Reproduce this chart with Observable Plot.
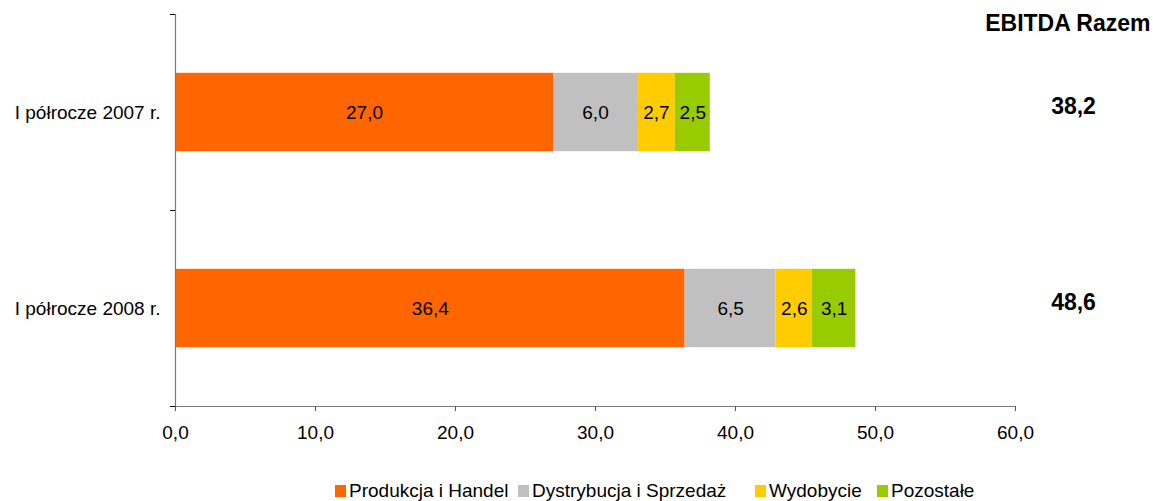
<!DOCTYPE html>
<html><head><meta charset="utf-8">
<script src="https://cdn.jsdelivr.net/npm/d3@7"></script>
<script src="https://cdn.jsdelivr.net/npm/@observablehq/plot@0.6"></script>
<style>
body{margin:0;background:#fff;font-family:"Liberation Sans",Arial,sans-serif;}
#chart svg{display:block;}
#legend{position:relative;height:23px;width:1153px;font-size:19px;color:#000;}
.item{position:absolute;top:1px;display:flex;align-items:center;height:23px;white-space:nowrap;}
.sw{width:11px;height:12px;margin-right:3px;display:inline-block;}
</style></head><body>
<div id="chart"></div>
<div id="legend"></div>
<script>
const categories = ["I półrocze 2007 r.", "I półrocze 2008 r."];
const segments = ["Produkcja i Handel", "Dystrybucja i Sprzedaż", "Wydobycie", "Pozostałe"];
const colors = ["#FF6600", "#C0C0C0", "#FFCC00", "#99CC00"];
const values2007 = [27.0, 6.0, 2.7, 2.5];
const values2008 = [36.4, 6.5, 2.6, 3.1];
const totals = [38.2, 48.6];
const xTicks = [0, 10, 20, 30, 40, 50, 60];
const totalTitle = "EBITDA Razem";

const fmt = d => d.toFixed(1).replace(".", ",");

const rows = [];
[values2007, values2008].forEach((vals, i) => {
  let acc = 0;
  vals.forEach((v, j) => {
    rows.push({cat: categories[i], segment: segments[j], value: v, x1: acc, x2: acc + v, y1: i + 0.3, y2: i + 0.7, yc: i + 0.5});
    acc += v;
  });
});

const plot = Plot.plot({
  width: 1153, height: 478,
  marginLeft: 175, marginRight: 138, marginTop: 14, marginBottom: 72,
  style: {fontFamily: "Liberation Sans, Arial, sans-serif", fontSize: "19px", color: "#000", background: "#fff", overflow: "visible"},
  x: {domain: [0, 60]},
  y: {domain: [0, 2], reverse: true},
  color: {domain: segments, range: colors},
  marks: [
    Plot.rectX(rows, {x1: "x1", x2: "x2", y1: "y1", y2: "y2", fill: "segment"}),
    Plot.text(rows, {x: d => (d.x1 + d.x2) / 2, y: "yc", text: d => fmt(d.value), fontSize: 19, fill: "#000"}),
    Plot.ruleX([0], {stroke: "#7a7a7a", strokeWidth: 1.2}),
    Plot.ruleY([2], {stroke: "#7a7a7a", strokeWidth: 1.2}),
    Plot.axisX({ticks: xTicks, tickFormat: fmt, tickSize: 5, tickPadding: 14, stroke: "#555", fontSize: 19}),
    Plot.axisY({ticks: [0, 1, 2], tickSize: 5, tickFormat: () => "", stroke: "#000"}),
    Plot.axisY({ticks: [0.5, 1.5], tickSize: 0, tickPadding: 15, tickFormat: d => categories[Math.floor(d)], fontSize: 19}),
    Plot.text(totals, {y: (d, i) => i + 0.5, frameAnchor: "right", dx: 58, dy: -6, textAnchor: "middle", text: fmt, fontWeight: "bold", fontSize: 23, fill: "#000"}),
    Plot.text([totalTitle], {frameAnchor: "top-right", dx: 135, dy: 9.5, lineAnchor: "middle", textAnchor: "end", fontWeight: "bold", fontSize: 23, fill: "#000"})
  ]
});
document.getElementById("chart").appendChild(plot);

const legendX = [335, 518, 755, 877];
const legend = document.getElementById("legend");
segments.forEach((s, i) => {
  const it = document.createElement("div");
  it.className = "item";
  it.style.left = legendX[i] + "px";
  it.innerHTML = `<span class="sw" style="background:${colors[i]}"></span><span>${s}</span>`;
  legend.appendChild(it);
});
</script>
</body></html>
